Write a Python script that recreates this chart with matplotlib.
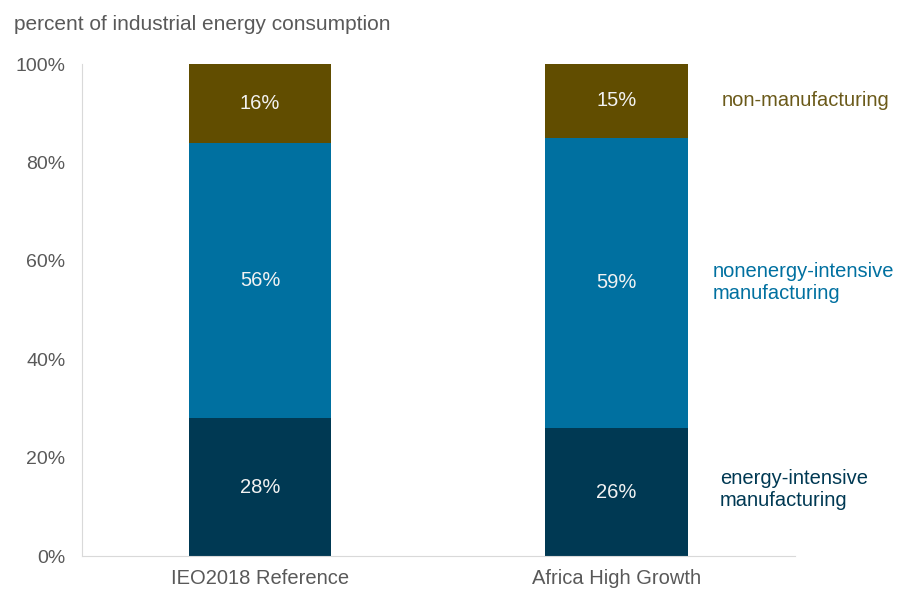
import matplotlib.pyplot as plt
import numpy as np

plt.rcParams['font.family'] = ['Liberation Sans', 'DejaVu Sans']

scenarios = ['IEO2018 Reference', 'Africa High Growth']
energy_intensive = [28, 26]
nonenergy_intensive = [56, 59]
non_manufacturing = [16, 15]

c_energy = '#003953'
c_nonenergy = '#0070a0'
c_nonmanuf = '#614d00'

fig = plt.figure(figsize=(9, 5.91), dpi=100)
ax = fig.add_axes([0.0911, 0.0592, 0.7919, 0.8325])

x = np.arange(len(scenarios))
w = 0.4
b1 = ax.bar(x, energy_intensive, w, color=c_energy)
b2 = ax.bar(x, nonenergy_intensive, w, bottom=energy_intensive, color=c_nonenergy)
bottom3 = np.array(energy_intensive) + np.array(nonenergy_intensive)
b3 = ax.bar(x, non_manufacturing, w, bottom=bottom3, color=c_nonmanuf)

for bars in (b1, b2, b3):
    ax.bar_label(bars, labels=[f'{v:.0f}%' for v in bars.datavalues],
                 label_type='center', color='#f2f2f2', fontsize=14.5)

ax.set_xlim(-0.5, 1.5)
ax.set_ylim(0, 100)
ax.set_yticks(range(0, 101, 20))
ax.set_yticklabels([f'{v}%' for v in range(0, 101, 20)])
ax.set_xticks(x)
ax.set_xticklabels(scenarios)
ax.tick_params(length=0, labelsize=14, colors='#595959')
ax.tick_params(axis='x', labelsize=14.5, pad=9)
ax.tick_params(axis='y', pad=12)
for s in ('top', 'right'):
    ax.spines[s].set_visible(False)
for s in ('left', 'bottom'):
    ax.spines[s].set_color('#d9d9d9')

fig.text(0.016, 0.958, 'percent of industrial energy consumption',
         fontsize=15, color='#595959', va='center')

# series labels to the right of the second bar
ax.text(1.295, 92.5, 'non-manufacturing', color='#6b5a1a', fontsize=14.5, va='center')
ax.text(1.27, 55.5, 'nonenergy-intensive\nmanufacturing', color=c_nonenergy,
        fontsize=14.5, va='center', linespacing=1.2)
ax.text(1.29, 13.5, 'energy-intensive\nmanufacturing', color=c_energy,
        fontsize=14.5, va='center', linespacing=1.15)

fig.savefig('out.png', dpi=100)
